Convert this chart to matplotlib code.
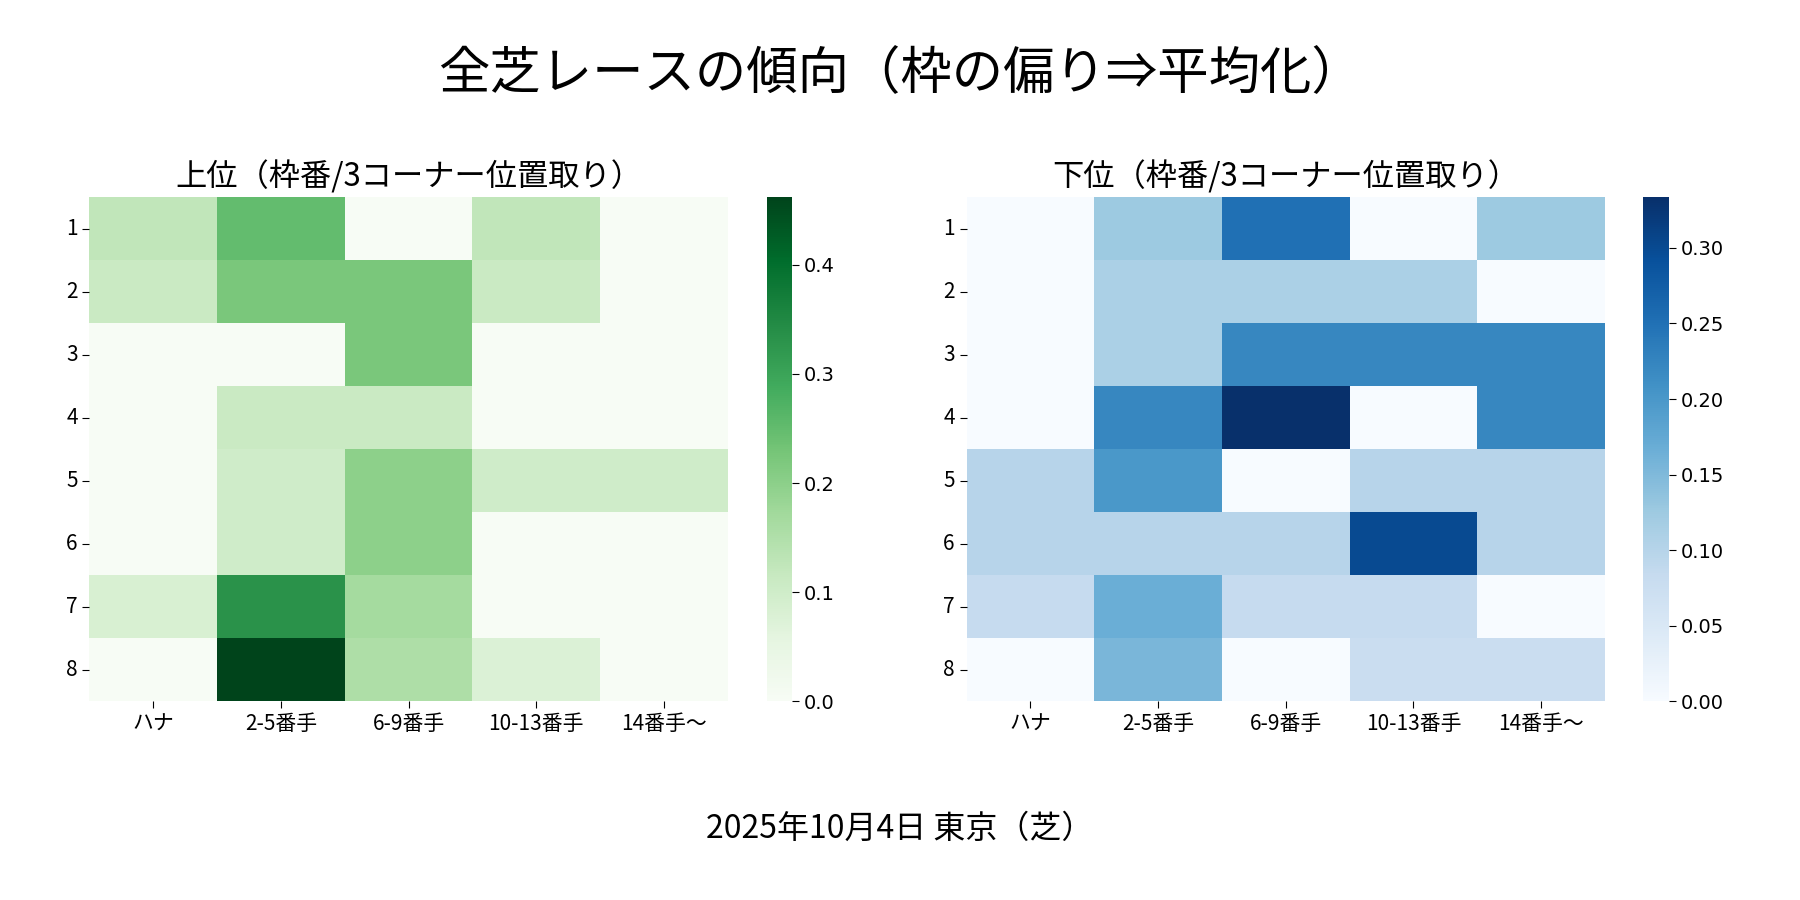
import matplotlib
matplotlib.use('Agg')
import matplotlib.pyplot as plt
import numpy as np
import seaborn as sns

plt.rcParams['font.family'] = ['Noto Sans CJK JP', 'DejaVu Sans']

# Data: rows = 枠番 1-8, columns = 3コーナー位置取り
waku = [1, 2, 3, 4, 5, 6, 7, 8]
positions = ['ハナ', '2-5番手', '6-9番手', '10-13番手', '14番手～']

upper = [
    [1/8, 2/8, 0, 1/8, 0],
    [1/9, 2/9, 2/9, 1/9, 0],
    [0, 0, 2/9, 0, 0],
    [0, 1/9, 1/9, 0, 0],
    [0, 1/10, 2/10, 1/10, 1/10],
    [0, 1/10, 2/10, 0, 0],
    [1/12, 4/12, 2/12, 0, 0],
    [0, 6/13, 2/13, 1/13, 0],
]
lower = [
    [0, 1/8, 2/8, 0, 1/8],
    [0, 1/9, 1/9, 1/9, 0],
    [0, 1/9, 2/9, 2/9, 2/9],
    [0, 2/9, 3/9, 0, 2/9],
    [1/10, 2/10, 0, 1/10, 1/10],
    [1/10, 1/10, 1/10, 3/10, 1/10],
    [1/12, 2/12, 1/12, 1/12, 0],
    [0, 2/13, 0, 1/13, 1/13],
]

fig = plt.figure(figsize=(18, 9), dpi=100)

ax1 = fig.add_axes([0.0497, 0.2207, 0.3546, 0.5599])
cax1 = fig.add_axes([0.426, 0.2207, 0.014, 0.5599])
ax2 = fig.add_axes([0.537, 0.2207, 0.3546, 0.5599])
cax2 = fig.add_axes([0.913, 0.2207, 0.014, 0.5599])

sns.heatmap(np.array(upper), ax=ax1, cbar_ax=cax1, cmap='Greens',
            xticklabels=positions, yticklabels=waku)
sns.heatmap(np.array(lower), ax=ax2, cbar_ax=cax2, cmap='Blues',
            xticklabels=positions, yticklabels=waku)

for ax, title in [(ax1, '上位（枠番/3コーナー位置取り）'), (ax2, '下位（枠番/3コーナー位置取り）')]:
    ax.set_title(title, fontsize=22.5, pad=8)
    ax.tick_params(axis='both', labelsize=15, length=5)
    plt.setp(ax.get_yticklabels(), rotation=0)
    plt.setp(ax.get_xticklabels(), rotation=0)

cax1.set_yticks([0.0, 0.1, 0.2, 0.3, 0.4])
cax2.set_yticks([0.0, 0.05, 0.10, 0.15, 0.20, 0.25, 0.30])
cax2.set_yticklabels(['0.00', '0.05', '0.10', '0.15', '0.20', '0.25', '0.30'])
for cax in (cax1, cax2):
    cax.tick_params(labelsize=14, length=5)
    for lab in cax.get_yticklabels():
        lab.set_family('DejaVu Sans')

fig.suptitle('全芝レースの傾向（枠の偏り⇒平均化）', fontsize=37, y=0.917, va='center')
fig.text(0.5, 0.079, '2025年10月4日 東京（芝）', fontsize=23, ha='center', va='center')

fig.savefig('out.png', dpi=100)
